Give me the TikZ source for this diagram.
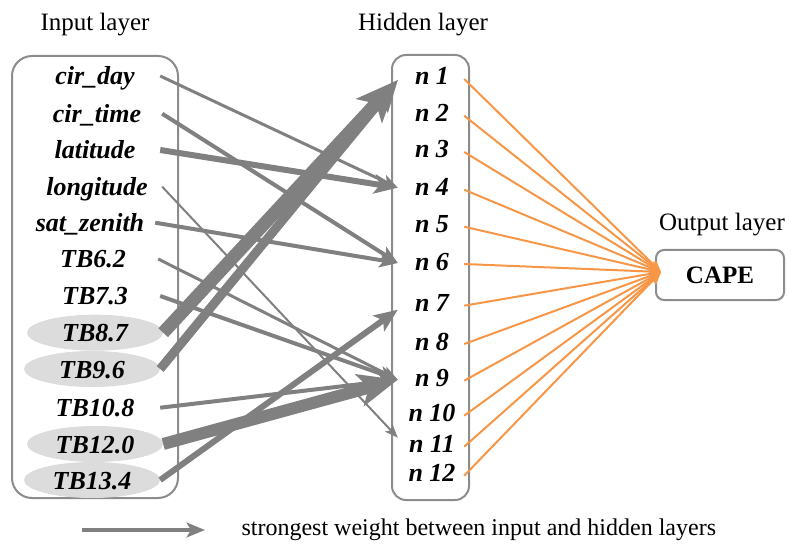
\documentclass[tikz,border=0pt]{standalone}
\usepackage{fontspec}
\setmainfont{Liberation Serif}
\usetikzlibrary{arrows.meta,shapes.geometric,calc}
\definecolor{wgray}{HTML}{808080}
\definecolor{bgray}{HTML}{8C8C8C}
\definecolor{eorange}{HTML}{F79646}
\definecolor{efill}{HTML}{DCDCDC}
\begin{document}
\begin{tikzpicture}[x=1pt,y=-1pt,
  lbl/.style={font=\fontsize{26}{30}\selectfont\bfseries\itshape, text height=18pt, text depth=0pt, inner sep=0pt, minimum width=130pt, minimum height=30pt},
  hl/.style={lbl, ellipse, fill=efill, minimum width=136pt, minimum height=36pt},
  hid/.style={font=\fontsize{26}{30}\selectfont\bfseries\itshape, text height=18pt, text depth=0pt, inner sep=0pt, minimum width=68pt, minimum height=26pt},
  ttl/.style={font=\fontsize{25}{30}\selectfont},
  layerbox/.style={draw=bgray, line width=2pt},
  wt/.style={draw=wgray, line width=#1, -{Stealth[length=8pt 2.6, width=6pt 2.2, inset=2pt 0.6]}},
  ow/.style={draw=eorange, line width=2pt, -{Stealth[length=12pt, width=10pt, inset=3pt]}}
]
\useasboundingbox (0,0) rectangle (792,545);

% titles
\node[ttl] (tin) at (95,25) {Input layer};
\node[ttl] (thid) at (423,25) {Hidden layer};
\node[ttl] (tout) at (722,225) {Output layer};

% layer boxes
\draw[layerbox, rounded corners=20pt] (12,56) rectangle (178,498);
\draw[layerbox, rounded corners=14pt] (392,55) rectangle (469,500);

% input nodes
\node[lbl] (cirday)  at (95,76)    {cir\_day};
\node[lbl] (cirtime) at (97,113.7) {cir\_time};
\node[lbl] (lat)     at (95,150)   {latitude};
\node[lbl] (lon)     at (97,186.7) {longitude};
\node[lbl] (sat)     at (90,222.7) {sat\_zenith};
\node[lbl] (tb62)    at (93,259)   {TB6.2};
\node[lbl] (tb73)    at (95,296)   {TB7.3};
\node[hl]  (tb87)    at (95,332.7) {TB8.7};
\node[hl]  (tb96)    at (92,369)   {TB9.6};
\node[lbl] (tb108)   at (95,407.7) {TB10.8};
\node[hl]  (tb120)   at (95,444)   {TB12.0};
\node[hl]  (tb134)   at (92,480)   {TB13.4};

% hidden nodes
\node[hid] (h1)  at (432,76)    {n 1};
\node[hid] (h2)  at (432,112.7) {n 2};
\node[hid] (h3)  at (432,149)   {n 3};
\node[hid] (h4)  at (432,186.7) {n 4};
\node[hid] (h5)  at (432,223.7) {n 5};
\node[hid] (h6)  at (432,261)   {n 6};
\node[hid] (h7)  at (432,302.7) {n 7};
\node[hid] (h8)  at (432,341)   {n 8};
\node[hid] (h9)  at (432,377.7) {n 9};
\node[hid] (h10) at (432,412.7) {n 10};
\node[hid] (h11) at (432,443.7) {n 11};
\node[hid] (h12) at (432,472.7) {n 12};

% output node
\node[draw=bgray, line width=2pt, rounded corners=8pt, minimum width=128pt, minimum height=50pt, font=\fontsize{25}{30}\selectfont\bfseries] (cape) at (720,275) {CAPE};

% weights input -> hidden
\draw[wt=3]  (cirday.east)  -- ($(h4.west)+(0,1)$);
\draw[wt=4]  (cirtime.east) -- ($(h6.west)+(0,2)$);
\draw[wt=6]  (lat.east)     -- ($(h4.west)+(0,1)$);
\draw[wt=2]  (lon.east)     -- ($(h11.west)+(0,-6)$);
\draw[wt=4]  (sat.east)     -- ($(h6.west)+(0,2)$);
\draw[wt=3]  (tb62.east)    -- ($(h9.west)+(0,2)$);
\draw[wt=4]  (tb73.east)    -- ($(h9.west)+(0,2)$);
\draw[wt=9]  (tb96.east)    -- ($(h1.west)+(0,4)$);
\draw[wt=13] (tb87.east)    -- ($(h1.west)+(0,4)$);
\draw[wt=4]  (tb108.east)   -- ($(h9.west)+(0,2)$);
\draw[wt=12] (tb120.east)   -- ($(h9.west)+(0,2)$);
\draw[wt=6]  (tb134.east)   -- ($(h7.west)+(0,7)$);

% hidden -> output
\foreach \i in {1,...,12}
  \draw[ow] ($(h\i.east)+(-2,3)$) -- ($(cape.west)+(6,-3)$);

% legend
\coordinate (lga) at (82,530);
\coordinate (lgb) at (205,530);
\draw[wt=4] (lga) -- (lgb);
\node[anchor=west, font=\fontsize{24}{28}\selectfont] (lgt) at (238,530) {strongest weight between input and hidden layers};
\end{tikzpicture}
\end{document}
